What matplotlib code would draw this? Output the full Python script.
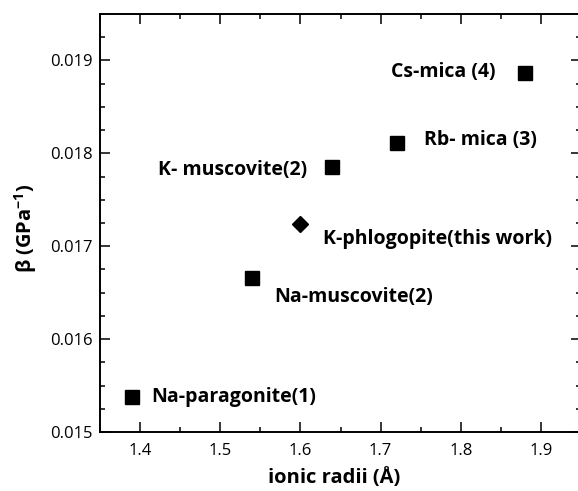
import matplotlib
matplotlib.use("Agg")
import matplotlib.pyplot as plt
from matplotlib.ticker import MultipleLocator

plt.rcParams['font.family'] = ['Open Sans', 'DejaVu Sans']
plt.rcParams['mathtext.fontset'] = 'custom'
plt.rcParams['mathtext.rm'] = 'Open Sans'
plt.rcParams['mathtext.bf'] = 'Open Sans:bold'

# Interlayer cation radius vs. compressibility for micas
minerals = ["Na-paragonite(1)", "Na-muscovite(2)", "K- muscovite(2)",
            "Rb- mica (3)", "Cs-mica (4)"]
radii = [1.39, 1.54, 1.64, 1.72, 1.88]
beta = [0.01538, 0.01666, 0.01785, 0.01811, 0.01886]

this_work_label = "K-phlogopite(this work)"
this_work_radius = [1.60]
this_work_beta = [0.01724]

# label offsets in points relative to each marker, with alignment
label_offsets = {
    "Na-paragonite(1)": (14, 0, 'left'),
    "Na-muscovite(2)": (16, -14, 'left'),
    "K- muscovite(2)": (-18, -2, 'right'),
    "Rb- mica (3)": (20, 2, 'left'),
    "Cs-mica (4)": (-21, 1, 'right'),
    "K-phlogopite(this work)": (16, -11, 'left'),
}

fig = plt.figure(figsize=(5.78, 4.91), dpi=100)
ax = fig.add_axes([100 / 578, 59 / 491, 481 / 578, 418 / 491])

ax.plot(radii, beta, linestyle='none', marker='s', markersize=9.6,
        color='black')
ax.plot(this_work_radius, this_work_beta, linestyle='none', marker='D',
        markersize=8, color='black')

label_size = 14
for name, x, y in zip(minerals, radii, beta):
    dx, dy, ha = label_offsets[name]
    ax.annotate(name, (x, y), xytext=(dx, dy), textcoords='offset points',
                ha=ha, va='center', fontsize=label_size, fontweight='bold')
dx, dy, ha = label_offsets[this_work_label]
ax.annotate(this_work_label, (this_work_radius[0], this_work_beta[0]),
            xytext=(dx, dy), textcoords='offset points', ha=ha, va='center',
            fontsize=label_size, fontweight='bold')

ax.set_xlim(1.35, 1.95)
ax.set_ylim(0.015, 0.0195)
ax.xaxis.set_minor_locator(MultipleLocator(0.05))
ax.yaxis.set_minor_locator(MultipleLocator(0.00025))
ax.set_xticks([1.4, 1.5, 1.6, 1.7, 1.8, 1.9])
ax.set_xticklabels(["1.4", "1.5", "1.6", "1.7", "1.8", "1.9"])
ax.set_yticks([0.015, 0.016, 0.017, 0.018, 0.019])
ax.set_yticklabels(["0.015", "0.016", "0.017", "0.018", "0.019"])

ax.tick_params(which='both', direction='in', top=True, right=True,
               labelsize=12, width=1.1)
ax.tick_params(which='major', length=7)
ax.tick_params(which='minor', length=3.8)
ax.tick_params(axis='x', pad=8)
ax.tick_params(axis='y', pad=5)
for sp in ax.spines.values():
    sp.set_linewidth(1.4)

ax.set_xlabel("ionic radii (Å)", fontsize=14.5, fontweight='bold')
ax.set_ylabel(r"β (GPa$^{\mathbf{-1}}$)", fontsize=14.5, fontweight='bold')
ax.xaxis.set_label_coords(0.487, -0.085)
ax.yaxis.set_label_coords(-0.126, 0.488)

fig.savefig("out.png", dpi=100)
